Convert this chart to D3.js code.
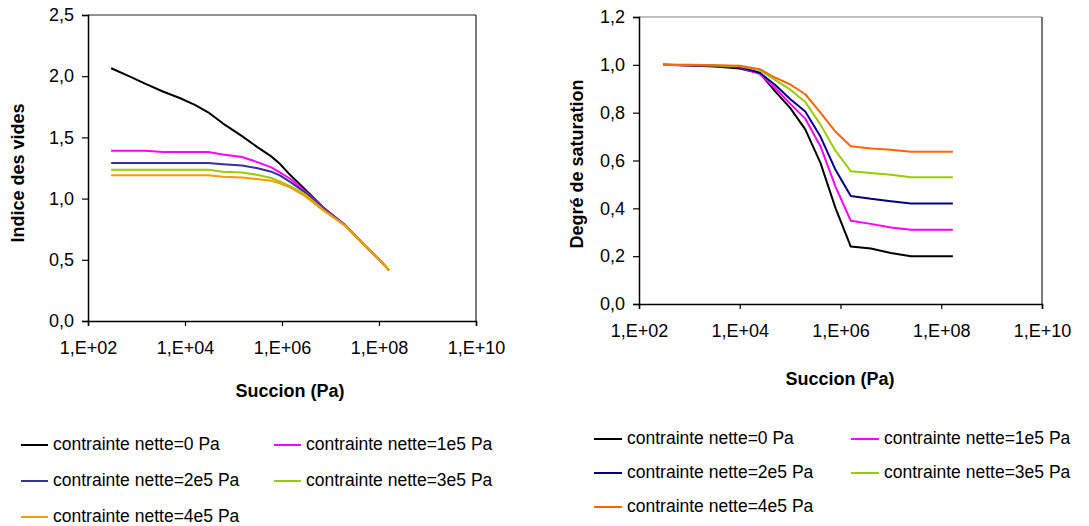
<!DOCTYPE html>
<html><head><meta charset="utf-8">
<script src="https://cdn.jsdelivr.net/npm/d3@7/dist/d3.min.js"></script>
<style>body{margin:0;background:#fff}svg{display:block}text{font-family:"Liberation Sans",Arial,sans-serif;fill:#000}</style>
</head><body>
<script>
// ---- Data ----
const seriesNames = ["contrainte nette=0 Pa","contrainte nette=1e5 Pa","contrainte nette=2e5 Pa","contrainte nette=3e5 Pa","contrainte nette=4e5 Pa"];
const xTicks = [1e2,1e4,1e6,1e8,1e10];
const xTickLabels = ["1,E+02","1,E+04","1,E+06","1,E+08","1,E+10"];
const leftYTicks = [0,0.5,1.0,1.5,2.0,2.5];
const rightYTicks = [0,0.2,0.4,0.6,0.8,1.0,1.2];

// Left chart: suction (Pa) and void ratio
const suctionL = [300,700,1500,3500,8000,16000,30000,60000,150000,300000,600000,900000,1.5e6,3e6,7e6,2e7,5e7,1e8,1.6e8];
const voidS0 = [2.065,2.0,1.94,1.875,1.82,1.765,1.705,1.615,1.51,1.425,1.345,1.285,1.19,1.075,0.93,0.785,0.62,0.505,0.415];
const voidS1 = [1.39,1.39,1.39,1.38,1.38,1.38,1.38,1.36,1.34,1.30,1.255,1.215,1.16,1.06,0.925,0.783,0.62,0.505,0.415];
const voidS2 = [1.29,1.29,1.29,1.29,1.29,1.29,1.29,1.28,1.27,1.25,1.22,1.19,1.135,1.05,0.92,0.78,0.62,0.505,0.415];
const voidS3 = [1.235,1.235,1.235,1.235,1.235,1.235,1.235,1.22,1.213,1.195,1.168,1.14,1.10,1.035,0.91,0.78,0.62,0.505,0.415];
const voidS4 = [1.19,1.19,1.19,1.19,1.19,1.19,1.19,1.178,1.172,1.16,1.145,1.125,1.09,1.02,0.905,0.778,0.62,0.505,0.415];

// Right chart: suction (Pa) and degree of saturation
const suctionR = [300,1e3,3162,1e4,25000,50000,1e5,2e5,4e5,8e5,1.6e6,4e6,1e7,2.5e7,1.7e8];
const satS0 = [1.0,0.997,0.993,0.985,0.965,0.89,0.82,0.73,0.59,0.40,0.24,0.232,0.213,0.20,0.20];
const satS1 = [1.0,0.998,0.995,0.99,0.962,0.903,0.838,0.775,0.66,0.49,0.348,0.335,0.32,0.31,0.31];
const satS2 = [1.0,0.998,0.996,0.992,0.967,0.917,0.857,0.805,0.70,0.56,0.452,0.44,0.43,0.42,0.42];
const satS3 = [1.0,0.999,0.997,0.994,0.978,0.937,0.897,0.845,0.75,0.64,0.555,0.548,0.54,0.53,0.53];
const satS4 = [1.0,1.0,0.998,0.996,0.982,0.947,0.918,0.877,0.80,0.72,0.66,0.65,0.645,0.637,0.637];

const colorsL = ["#000000","#FF00FF","#333399","#99CC00","#FF9900"];
const colorsR = ["#000000","#FF00FF","#000080","#99CC00","#FF6600"];

const svg = d3.select("body").append("svg").attr("width",1089).attr("height",526);

function chart(cfg){
  const x = d3.scaleLog().domain([1e2,1e10]).range([cfg.x0,cfg.x1]);
  const y = d3.scaleLinear().domain([0,cfg.ymax]).range([cfg.y1,cfg.y0]);
  const g = svg.append("g");
  // frame top & right
  g.append("line").attr("x1",cfg.x0).attr("x2",cfg.x1).attr("y1",cfg.y0).attr("y2",cfg.y0).attr("stroke",cfg.topColor).attr("stroke-width",1.2);
  g.append("line").attr("x1",cfg.x1).attr("x2",cfg.x1).attr("y1",cfg.y0).attr("y2",cfg.y1).attr("stroke","#222").attr("stroke-width",1.2);
  // axes
  const xa = g.append("g").attr("transform",`translate(0,${cfg.y1})`)
    .call(d3.axisBottom(x).tickValues(xTicks).tickFormat((d,i)=>xTickLabels[i]).tickSize(5).tickPadding(15));
  const ya = g.append("g").attr("transform",`translate(${cfg.x0},0)`)
    .call(d3.axisLeft(y).tickValues(cfg.yTicks).tickFormat(d=>d3.format(".1f")(d).replace(".",",")).tickSize(6).tickPadding(8));
  [xa,ya].forEach(a=>{a.select(".domain").attr("stroke","#000").attr("stroke-width",1.5);
    a.selectAll(".tick line").attr("stroke","#000").attr("stroke-width",1.2);
    a.selectAll("text").attr("font-size",18).attr("font-family","Liberation Sans, Arial, sans-serif");});
  // lines
  const line = d3.line().x(d=>x(d[0])).y(d=>y(d[1]));
  cfg.series.forEach((s,i)=>{
    g.append("path").datum(cfg.xs.map((v,j)=>[v,s[j]])).attr("d",line)
      .attr("fill","none").attr("stroke",cfg.colors[i]).attr("stroke-width",2).attr("stroke-linejoin","round");
  });
  // titles
  g.append("text").attr("x",cfg.xtX).attr("y",cfg.xtY).attr("text-anchor","middle").attr("dominant-baseline","middle")
    .attr("font-size",18).attr("font-weight","bold").text("Succion (Pa)");
  g.append("text").attr("transform",`translate(${cfg.ytX},${cfg.ytY}) rotate(-90)`).attr("text-anchor","middle").attr("dominant-baseline","middle")
    .attr("font-size",18).attr("font-weight","bold").text(cfg.ytitle);
  // legend
  cfg.legend.forEach((p,i)=>{
    g.append("line").attr("x1",p[0]).attr("x2",p[0]+cfg.legLen).attr("y1",p[1]).attr("y2",p[1]).attr("stroke",cfg.colors[i]).attr("stroke-width",2);
    g.append("text").attr("x",p[0]+cfg.legLen+cfg.legGap).attr("y",p[1]).attr("dominant-baseline","middle").attr("font-size",17.5).text(seriesNames[i]);
  });
}

chart({x0:88,x1:476,y0:15,y1:321,ymax:2.5,yTicks:leftYTicks,xs:suctionL,
  series:[voidS0,voidS1,voidS2,voidS3,voidS4],colors:colorsL,topColor:"#222",
  xtX:290,xtY:392,ytX:19,ytY:173,ytitle:"Indice des vides",
  legend:[[21,445],[274,445],[21,481],[274,481],[21,517]],legLen:27,legGap:5});

chart({x0:639,x1:1042,y0:17,y1:304,ymax:1.2,yTicks:rightYTicks,xs:suctionR,
  series:[satS0,satS1,satS2,satS3,satS4],colors:colorsR,topColor:"#808080",
  xtX:840,xtY:380,ytX:578,ytY:164,ytitle:"Degré de saturation",
  legend:[[594,439],[851,439],[594,473],[851,473],[594,507]],legLen:28,legGap:5});
</script>
</body></html>
